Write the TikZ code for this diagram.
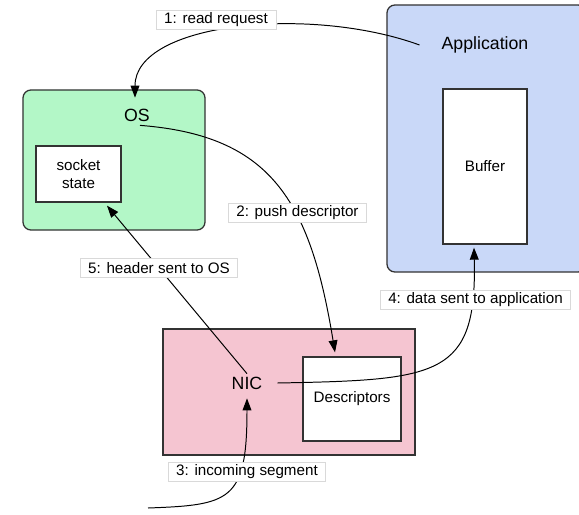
\documentclass[tikz,border=0pt]{standalone}
\usepackage{fontspec}
\setmainfont{Liberation Sans}
\usetikzlibrary{arrows.meta,positioning,calc}
\definecolor{osgreen}{RGB}{179,247,199}
\definecolor{appblue}{RGB}{201,216,248}
\definecolor{nicpink}{RGB}{245,197,209}

\begin{document}
\begin{tikzpicture}[x=0.025cm,y=-0.025cm,
    box/.style={draw=black!80,line width=0.9pt,rectangle},
    inbox/.style={box,fill=white,font=\fontsize{10.8}{13}\selectfont,align=center},
    title/.style={font=\fontsize{12.6}{15}\selectfont,inner sep=2pt},
    lbl/.style={draw=black!15,fill=white,line width=0.4pt,font=\fontsize{10.8}{13}\selectfont,
      inner xsep=0.2cm,inner ysep=0pt,minimum height=0.475cm},
    flow/.style={line width=0.7pt,-{Triangle[length=3mm,width=2.2mm]}}]
  \useasboundingbox (0,0) rectangle (579,514);
  % OS
  \node[box,fill=osgreen,rounded corners=0.2cm,minimum width=4.55cm,minimum height=3.5cm] (osbox) at (114,160) {};
  \node[title] (os) at (137,115) {OS};
  \node[inbox,minimum width=2.125cm,minimum height=1.4cm] (sock) at (78.5,174) {socket\\state};
  % application
  \node[box,fill=appblue,rounded corners=0.2cm,minimum width=4.975cm,minimum height=6.675cm] (appbox) at (486.5,138.5) {};
  \node[title] (app) at (485,45) {Application};
  \node[inbox,minimum width=2.1cm,minimum height=3.875cm] (buffer) at (485,166.5) {Buffer};
  % NIC
  \node[box,fill=nicpink,minimum width=6.3cm,minimum height=3.15cm] (nicbox) at (289,392) {};
  \node[title] (nic) at (247,383) {NIC};
  \node[inbox,minimum width=2.45cm,minimum height=2.1cm] (desc) at (352,399) {Descriptors};
  \coordinate (wire) at (148,508);
  % flows
  \draw[flow] ($(app.west)+(-19,0)$) .. controls +(-110,-40) and +(0,-75) .. ($(os.north)+(-2,-8)$);
  \draw[flow] ($(os.south)+(3,1)$) .. controls +(130,10) and +(-25,-153) .. ($(desc.north)+(-17,-4)$);
  \draw[flow] (wire) .. controls +(82,-3) and +(0,103) .. ($(nic.south)+(0,6)$);
  \draw[flow] ($(nic.east)+(12,0)$) .. controls +(162,-3) and +(3,129) .. ($(buffer.south)+(-11,3)$);
  \draw[flow] (nic.north) -- ($(sock.south)+(28.5,3)$);
  % labels
  \node[lbl] (l1) at (216,20) {1: read request};
  \node[lbl] (l2) at (297.5,213) {2: push descriptor};
  \node[lbl] (l3) at (247,471.5) {3: incoming segment};
  \node[lbl] (l4) at (475.5,299.5) {4: data sent to application};
  \node[lbl] (l5) at (159,268) {5: header sent to OS};
\end{tikzpicture}
\end{document}
